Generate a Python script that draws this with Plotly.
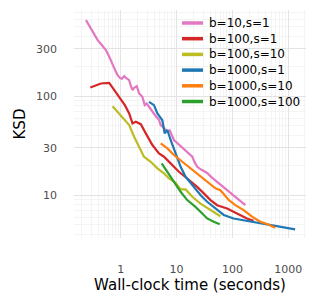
import plotly.graph_objects as go

# b=10, s=1
x_b10_s1 = [0.237, 0.29, 0.33, 0.384, 0.45, 0.54, 0.62, 0.711, 0.80, 0.873, 0.97, 1.05, 1.146, 1.25, 1.41, 1.5, 1.62, 1.75, 1.93, 2.12, 2.3, 2.44, 2.68, 2.9, 3.2, 3.5, 3.93, 4.2, 4.52, 4.8, 5.18, 5.9, 6.82, 7.5, 8.95, 10.0, 11.8, 13.5, 15.5, 17.0, 19.1, 21.0, 23.4, 28.0, 35.3, 43.0, 53.3, 65.0, 80.4, 100.0, 121.0, 145.0, 171.0]
y_b10_s1 = [586, 480, 420, 368, 330, 292, 250, 206, 180, 163, 152, 150, 159, 152, 145, 128, 115, 122, 126, 107, 102, 98, 81, 84, 78, 72, 67, 63, 60, 58, 51, 48, 43.5, 45, 36, 34, 30.8, 29, 26.6, 25.5, 24.4, 21.5, 19.3, 18.0, 16.7, 15.0, 13.6, 12.2, 11.2, 10.2, 9.3, 8.6, 7.9]

# b=100, s=1
x_b100_s1 = [0.283, 0.44, 0.618, 0.76, 1.0, 1.18, 1.41, 1.62, 1.85, 2.28, 2.8, 3.68, 4.83, 5.93, 7.81, 11.0, 15.5, 23.4, 30.7, 40.5, 53.3, 80.4, 121.0, 183.0, 240.0]
y_b100_s1 = [122, 134, 136, 115, 91, 81, 66.9, 53, 55, 52, 42, 32, 26.4, 24.4, 20.9, 17.2, 14.7, 12.1, 10.4, 8.9, 7.9, 7.3, 6.5, 5.8, 5.5]

# b=100, s=10
x_b100_s10 = [0.711, 1.0, 1.41, 1.73, 2.12, 2.6, 3.43, 4.52, 5.93, 7.29, 9.6, 11.8, 14.5, 19.1, 26.8, 40.5, 61.0]
y_b100_s10 = [79, 64, 51, 38.8, 30.8, 24.4, 21.7, 18.6, 16.6, 14.7, 13.3, 11.4, 11.4, 9.6, 8.2, 7.05, 6.1]

# b=1000, s=1
x_b1000_s1 = [3.2, 3.93, 4.52, 5.55, 6.1, 6.82, 7.81, 9.6, 11.8, 14.5, 19.1, 26.8, 35.3, 49.7, 70.0, 105.0, 183.0, 276.0, 547.0, 948.0, 1334.0]
y_b1000_s1 = [87.5, 81, 66.9, 57, 42, 45.4, 36, 26.4, 19.3, 15.3, 12.6, 10.0, 8.55, 7.3, 6.3, 5.8, 5.5, 5.2, 4.9, 4.68, 4.5]

# b=1000, s=10
x_b1000_s10 = [5.18, 6.82, 8.95, 12.6, 17.8, 25.0, 35.3, 49.7, 61.0, 75.0, 86.0, 113.0, 159.0, 225.0, 316.0, 417.0, 586.0]
y_b1000_s10 = [33.3, 29.6, 25.4, 21.7, 18.6, 15.9, 13.6, 11.7, 11.2, 9.6, 8.9, 7.9, 7.05, 6.04, 5.37, 5.09, 4.68]

# b=1000, s=100
x_b1000_s100 = [5.4, 6.82, 8.95, 11.8, 15.5, 21.8, 28.8, 35.3, 46.4, 59.3]
y_b1000_s100 = [20.9, 17.2, 13.6, 10.8, 8.9, 7.6, 6.5, 5.8, 5.37, 5.06]

series_names = ["b=10,s=1", "b=100,s=1", "b=100,s=10", "b=1000,s=1", "b=1000,s=10", "b=1000,s=100"]
series_x = [x_b10_s1, x_b100_s1, x_b100_s10, x_b1000_s1, x_b1000_s10, x_b1000_s100]
series_y = [y_b10_s1, y_b100_s1, y_b100_s10, y_b1000_s1, y_b1000_s10, y_b1000_s100]
colors = ["#e377c2", "#d62728", "#bcbd22", "#1f77b4", "#ff7f0e", "#2ca02c"]

x_tickvals = [1, 10, 100, 1000]
x_ticktext = ["1", "10", "100", "1000"]
y_tickvals = [10, 30, 100, 300]
y_ticktext = ["10", "30", "100", "300"]

W, H = 316, 304
ML, MR, MT, MB = 74, 10, 10, 66
PW, PH = W - ML - MR, H - MT - MB

fig = go.Figure()
for name, xs, ys, c in zip(series_names, series_x, series_y, colors):
    fig.add_trace(go.Scatter(x=xs, y=ys, mode="lines", name=name,
                             line=dict(color=c, width=2.2), showlegend=False))

# compact legend (ggplot-like), drawn in paper coordinates
leg_line_x0, leg_line_x1, leg_text_x = 182, 203, 207
leg_row0, leg_row_step = 23, 15.7
def px_to_paper_x(px):
    return (px - ML) / PW
def px_to_paper_y(py):
    return (H - MB - py) / PH
shapes = []
annotations = []
for i, (name, c) in enumerate(zip(series_names, colors)):
    yy = px_to_paper_y(leg_row0 + i * leg_row_step)
    shapes.append(dict(type="line", xref="paper", yref="paper",
                       x0=px_to_paper_x(leg_line_x0), x1=px_to_paper_x(leg_line_x1),
                       y0=yy, y1=yy, line=dict(color=c, width=3.5)))
    annotations.append(dict(xref="paper", yref="paper", x=px_to_paper_x(leg_text_x), y=yy,
                            text=name, showarrow=False, xanchor="left", yanchor="middle",
                            font=dict(size=12, color="black", family="DejaVu Sans")))

grid_major = "#e3e3e3"
grid_minor = "#f4f4f4"
fig.update_layout(
    width=W, height=H,
    margin=dict(l=ML, r=MR, t=MT, b=MB, autoexpand=False),
    paper_bgcolor="white", plot_bgcolor="white",
    font=dict(family="DejaVu Sans", color="black"),
    showlegend=False,
    shapes=shapes, annotations=annotations,
)
fig.update_xaxes(type="log", range=[-0.84, 3.32], automargin=False,
                 tickvals=x_tickvals, ticktext=x_ticktext,
                 tickfont=dict(size=11, color="#4d4d4d"),
                 ticks="", ticklabelstandoff=23,
                 showline=False, zeroline=False,
                 gridcolor=grid_major, gridwidth=1,
                 minor=dict(tickvals=[v * m for v in [0.1, 1, 10, 100, 1000] for m in range(2, 10)],
                            showgrid=True, gridcolor=grid_minor, gridwidth=1),
                 title=dict(text="Wall-clock time (seconds)", font=dict(size=15, color="black"), standoff=4))
fig.update_yaxes(type="log", range=[0.566, 2.87], automargin=False,
                 tickvals=y_tickvals, ticktext=y_ticktext,
                 tickfont=dict(size=11, color="#4d4d4d"),
                 ticks="", ticklabelstandoff=16,
                 showline=False, zeroline=False,
                 gridcolor=grid_major, gridwidth=1,
                 minor=dict(tickvals=[v * m for v in [1, 10, 100] for m in range(2, 10)],
                            showgrid=True, gridcolor=grid_minor, gridwidth=1),
                 title=dict(text="KSD", font=dict(size=15, color="black"), standoff=6))

fig.write_html("out.html", config={"displayModeBar": False},
               post_script="document.body.style.margin='0';")
